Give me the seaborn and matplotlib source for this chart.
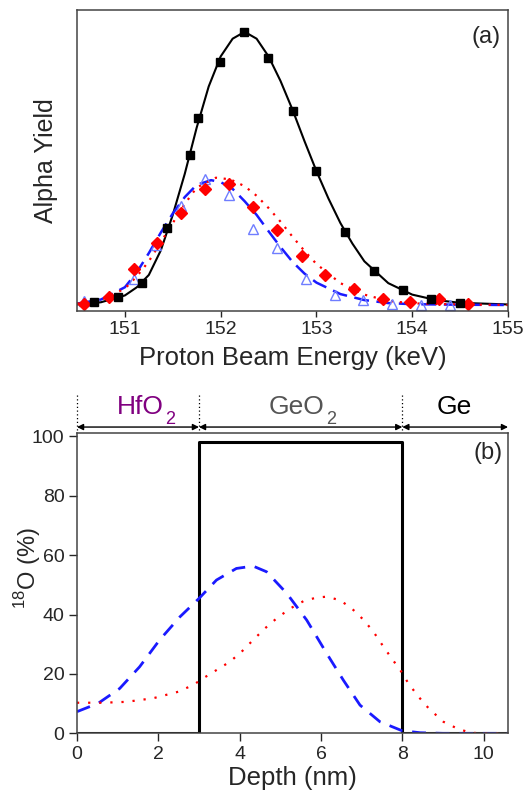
import matplotlib
matplotlib.use('Agg')
import matplotlib.pyplot as plt
import numpy as np
import pandas as pd
import seaborn as sns

# ---- panel (a): resonance yield curves ----
sq_e = [150.68, 150.93, 151.18, 151.44, 151.68, 151.76, 151.99, 152.24, 152.49,
        152.75, 153.00, 153.30, 153.60, 153.90, 154.20, 154.50]
sq_y = [0.011, 0.030, 0.079, 0.283, 0.549, 0.683, 0.890, 1.000, 0.905,
        0.712, 0.491, 0.266, 0.124, 0.055, 0.021, 0.009]

dia_e = [150.57, 150.83, 151.09, 151.34, 151.59, 151.84, 152.09, 152.34, 152.59,
         152.85, 153.09, 153.39, 153.69, 153.98, 154.28, 154.58]
dia_y = [0.002, 0.029, 0.133, 0.226, 0.335, 0.423, 0.444, 0.359, 0.276,
         0.179, 0.111, 0.057, 0.023, 0.011, 0.021, 0.004]

tri_e = [150.57, 151.09, 151.33, 151.59, 151.84, 152.09, 152.34, 152.59, 152.89,
         153.19, 153.49, 153.79, 154.09, 154.39]
tri_y = [0.015, 0.095, 0.220, 0.363, 0.461, 0.402, 0.280, 0.207, 0.094,
         0.038, 0.018, 0.004, 0.001, 0.001]

fit_k_e = [150.5, 150.75, 151.0, 151.125, 151.25, 151.375, 151.5, 151.625, 151.75,
           151.875, 152.0, 152.125, 152.25, 152.375, 152.5, 152.625, 152.75, 152.875,
           153.0, 153.125, 153.25, 153.375, 153.5, 153.75, 154.0, 154.25, 154.5, 155.0]
fit_k_y = [0.002, 0.010, 0.035, 0.065, 0.110, 0.200, 0.330, 0.480, 0.650,
           0.800, 0.910, 0.975, 1.000, 0.975, 0.910, 0.820, 0.715, 0.600,
           0.490, 0.390, 0.300, 0.225, 0.160, 0.080, 0.038, 0.018, 0.008, 0.002]

fit_b_e = [150.5, 150.75, 151.0, 151.125, 151.25, 151.375, 151.5, 151.625, 151.75,
           151.9, 152.0, 152.125, 152.25, 152.375, 152.5, 152.625, 152.75, 152.875,
           153.0, 153.25, 153.5, 153.75, 154.0, 154.5, 155.0]
fit_b_y = [0.005, 0.020, 0.065, 0.120, 0.190, 0.265, 0.335, 0.395, 0.440,
           0.457, 0.450, 0.425, 0.380, 0.330, 0.270, 0.212, 0.158, 0.115,
           0.082, 0.040, 0.018, 0.007, 0.003, 0.001, 0.0]

fit_r_e = [150.5, 150.75, 151.0, 151.125, 151.25, 151.375, 151.5, 151.625, 151.75,
           151.95, 152.1, 152.25, 152.375, 152.5, 152.625, 152.75, 152.875, 153.0,
           153.25, 153.5, 153.75, 154.0, 154.5, 155.0]
fit_r_y = [0.005, 0.018, 0.060, 0.105, 0.160, 0.230, 0.300, 0.370, 0.430,
           0.466, 0.460, 0.435, 0.400, 0.355, 0.305, 0.250, 0.198, 0.150,
           0.080, 0.038, 0.015, 0.006, 0.002, 0.0]

# ---- panel (b): 18O depth profiles ----
step_x = [0, 3, 3, 8, 8, 10.6]
step_y = [0, 0, 98, 98, 0, 0]

blue_x = [0, 0.52, 1.05, 1.54, 2.03, 2.53, 3.0, 3.43, 3.92, 4.33, 4.66, 5.16,
          5.65, 6.14, 6.55, 6.96, 7.45, 7.99, 8.44, 9.0, 10.6]
blue_y = [7.3, 10.1, 15.1, 22.4, 31.4, 39.2, 45.4, 51.6, 55.5, 56.3, 54.4, 47.1,
          38.1, 26.9, 17.9, 9.5, 3.9, 0.9, 0.2, 0.0, 0.0]

red_x = [0, 0.64, 1.21, 1.87, 2.49, 2.86, 3.1, 3.43, 3.76, 4.05, 4.33, 4.62, 4.91,
         5.24, 5.57, 5.89, 6.14, 6.47, 6.76, 7.04, 7.29, 7.52, 7.74, 7.95, 8.15,
         8.4, 8.65, 9.01, 9.34, 9.67, 10.0, 10.6]
red_y = [10.3, 10.3, 10.6, 11.8, 14.0, 16.3, 18.5, 21.3, 24.1, 27.5, 31.4, 35.3, 38.7,
         42.0, 44.5, 45.7, 46.0, 44.8, 42.0, 38.3, 34.2, 29.5, 25.2, 21.3, 16.8,
         12.3, 8.4, 3.9, 1.7, 0.2, 0.0, 0.0]

layers = ['HfO', 'GeO', 'Ge']
layer_subs = ['2', '2', '']
layer_bounds = [0, 3, 8, 10.6]
layer_label_x = [1.55, 5.4, 9.28]
layer_colors = ['#800080', '#555555', 'black']

sns.set_style('ticks')
plt.rcParams['font.family'] = ['Liberation Sans', 'DejaVu Sans']
plt.rcParams['mathtext.fontset'] = 'custom'
plt.rcParams['mathtext.rm'] = 'Liberation Sans'

fig = plt.figure(figsize=(5.27, 7.94), dpi=100)
ax1 = fig.add_axes([0.1461, 0.6083, 0.8179, 0.3791])
ax2 = fig.add_axes([0.1461, 0.0764, 0.8179, 0.3779])

# panel (a)
sns.lineplot(x=fit_k_e, y=fit_k_y, ax=ax1, color='black', lw=1.5, sort=False,
             estimator=None)
sns.lineplot(x=fit_b_e, y=fit_b_y, ax=ax1, color='#1a1aff', lw=1.8, sort=False,
             estimator=None, linestyle=(0, (6, 3)))
sns.lineplot(x=fit_r_e, y=fit_r_y, ax=ax1, color='red', lw=1.6, sort=False,
             estimator=None, linestyle=(0, (1, 3)))
ax1.plot(tri_e, tri_y, ls='none', marker='^', ms=7.5, mfc='none', mec='#6f7dff', mew=1)
ax1.plot(dia_e, dia_y, ls='none', marker='D', ms=6, color='red', mec='red')
ax1.plot(sq_e, sq_y, ls='none', marker='s', ms=5.5, color='black')

ax1.set_xlim(150.5, 155)
ax1.set_ylim(-0.022, 1.08)
ax1.set_xticks([151, 152, 153, 154, 155])
ax1.set_yticks([])
ax1.tick_params(axis='x', labelsize=14, length=4, width=1, direction='out', pad=3)
ax1.set_xlabel('Proton Beam Energy (keV)', fontsize=18.5, va='top')
ax1.xaxis.set_label_coords(0.5, -0.115)
ax1.set_ylabel('Alpha Yield', fontsize=18)
ax1.yaxis.set_label_coords(-0.045, 0.5)
ax1.text(0.948, 0.911, '(a)', transform=ax1.transAxes, fontsize=17,
         ha='center', va='center')

# panel (b)
sns.lineplot(x=step_x, y=step_y, ax=ax2, color='black', lw=2.2, sort=False,
             estimator=None)
sns.lineplot(x=blue_x, y=blue_y, ax=ax2, color='#1a1aff', lw=2, sort=False,
             estimator=None, linestyle=(0, (5, 3.5)))
sns.lineplot(x=red_x, y=red_y, ax=ax2, color='red', lw=1.6, sort=False,
             estimator=None, linestyle=(0, (1, 4)))

ax2.set_xlim(0, 10.6)
ax2.set_ylim(0, 101)
ax2.set_xticks([0, 2, 4, 6, 8, 10])
ax2.set_yticks([0, 20, 40, 60, 80, 100])
ax2.tick_params(labelsize=14, length=6, width=1, direction='out', pad=3)
ax2.set_xlabel('Depth (nm)', fontsize=18.5, va='top')
ax2.xaxis.set_label_coords(0.5, -0.11)
ax2.set_ylabel('$^{18}$O (%)', fontsize=17)
ax2.yaxis.set_label_coords(-0.08, 0.55)
ax2.text(0.954, 0.934, '(b)', transform=ax2.transAxes, fontsize=17,
         ha='center', va='center')

for xb in layer_bounds[:-1]:
    ax2.plot([xb, xb], [102, 114], color='black', lw=0.9, ls=(0, (1, 2)),
             clip_on=False)
for i, name in enumerate(layers):
    ax2.annotate('', xy=(layer_bounds[i], 103.1), xytext=(layer_bounds[i + 1], 103.1),
                 xycoords='data', annotation_clip=False,
                 arrowprops=dict(arrowstyle='<|-|>', color='black', lw=1,
                                 mutation_scale=9, shrinkA=0, shrinkB=0))
    t = ax2.text(layer_label_x[i], 107.6, name, color=layer_colors[i], fontsize=19,
                 ha='center', va='baseline')
    if layer_subs[i]:
        # subscript sits low and a bit apart, as in the original figure
        ax2.annotate(layer_subs[i], xy=(1, 0), xycoords=t, xytext=(1.5, -7),
                     textcoords='offset points', color=layer_colors[i],
                     fontsize=13, ha='left', va='bottom', annotation_clip=False)

for ax in (ax1, ax2):
    for sp in ax.spines.values():
        sp.set_color('#444444')
        sp.set_linewidth(1.1)

fig.savefig('out.png', dpi=100)
